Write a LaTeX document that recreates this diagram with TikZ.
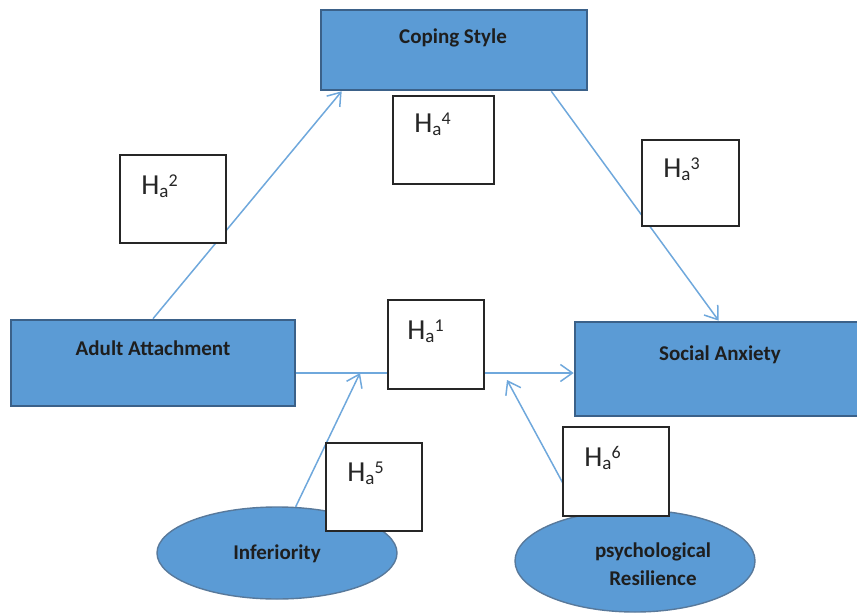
\documentclass[tikz,border=0pt]{standalone}
\usepackage{fontspec}
\setmainfont{Carlito}
\usetikzlibrary{arrows.meta,shapes.geometric,calc}
\definecolor{fillblue}{HTML}{5B9BD5}
\definecolor{edgeblue}{HTML}{3B6189}
\definecolor{lineblue}{HTML}{6FA8DC}
\definecolor{txt}{HTML}{1E1E1E}
\newcommand{\hyp}[1]{{\fontsize{29}{29}\selectfont H}\raisebox{-3pt}{\fontsize{19}{19}\selectfont a}\raisebox{8pt}{\fontsize{18}{18}\selectfont #1}}
\begin{document}
\begin{tikzpicture}[x=1pt,y=-1pt,
 varbox/.style={draw=edgeblue, line width=2.6pt, fill=fillblue, rectangle, inner sep=0pt},
 varell/.style={draw=edgeblue!85, line width=1.4pt, fill=fillblue, ellipse, inner sep=0pt},
 hbox/.style={draw=black!85, line width=1.6pt, fill=white, rectangle, inner sep=0pt},
 vlbl/.style={font=\fontsize{21}{28}\selectfont\bfseries, text=txt, inner sep=0pt, anchor=base},
 hlbl/.style={text=black!85, inner sep=0pt, anchor=base west},
 conn/.style={draw=lineblue, line width=1.5pt},
 arr/.style={conn, -{Straight Barb[length=12pt,width=17pt,line width=1.5pt]}}
]
\useasboundingbox (0,0) rectangle (857,613);
\clip (0,0) rectangle (857,613);

\node[varbox, minimum width=266pt, minimum height=80pt,
      label={[vlbl, xshift=-1pt, yshift=12pt]center:Coping Style}] (cs) at (454,50) {};
\node[varbox, minimum width=284pt, minimum height=86pt,
      label={[vlbl, yshift=15pt]center:Adult Attachment}] (aa) at (153,363) {};
\node[varbox, minimum width=285pt, minimum height=94pt,
      label={[vlbl, xshift=2.5pt, yshift=14pt]center:Social Anxiety}] (sa) at (717.5,369) {};
\node[varell, minimum width=240pt, minimum height=92pt,
      label={[vlbl, yshift=-1pt]center:Inferiority}] (inf) at (277,553) {};
\node[varell, minimum width=240pt, minimum height=102pt,
      label={[vlbl, anchor=center, align=center, xshift=18pt, yshift=-3pt]center:psychological\\Resilience}] (res) at (635,561) {};

\node[hbox, minimum width=96pt, minimum height=89pt,
      label={[hlbl, xshift=20pt, yshift=-40pt]north west:\hyp{1}}] (h1) at (436,344.5) {};

\coordinate (p) at ($(aa.east)+(0,10)$);
\coordinate (q) at ($(h1.east)+(0,28.5)$);
\coordinate (j1) at (360,373);
\coordinate (j2) at (507,380);

\draw[arr] (aa.north) -- ($(cs.south west)+(22,0)$);
\draw[arr] ($(cs.south east)+(-37,0)$) -- ($(sa.north west)+(145,0)$);
\draw[conn] (p) -- (p -| h1.west);
\draw[arr] (q) -- (q -| sa.west);
\draw[arr] (inf.68) -- (j1);
\draw[arr] (res.140) -- (j2);

\node[hbox, minimum width=106pt, minimum height=88pt,
      label={[hlbl, xshift=22pt, yshift=-40pt]north west:\hyp{2}}] (h2) at (173,199) {};
\node[hbox, minimum width=101pt, minimum height=88pt,
      label={[hlbl, xshift=22pt, yshift=-37pt]north west:\hyp{4}}] (h4) at (443.5,140) {};
\node[hbox, minimum width=97pt, minimum height=86pt,
      label={[hlbl, xshift=22pt, yshift=-38pt]north west:\hyp{3}}] (h3) at (690.5,183) {};
\node[hbox, minimum width=96pt, minimum height=88pt,
      label={[hlbl, xshift=22pt, yshift=-39pt]north west:\hyp{5}}] (h5) at (374,487) {};
\node[hbox, minimum width=106pt, minimum height=89pt,
      label={[hlbl, xshift=22pt, yshift=-40pt]north west:\hyp{6}}] (h6) at (616,471.5) {};
\end{tikzpicture}
\end{document}
